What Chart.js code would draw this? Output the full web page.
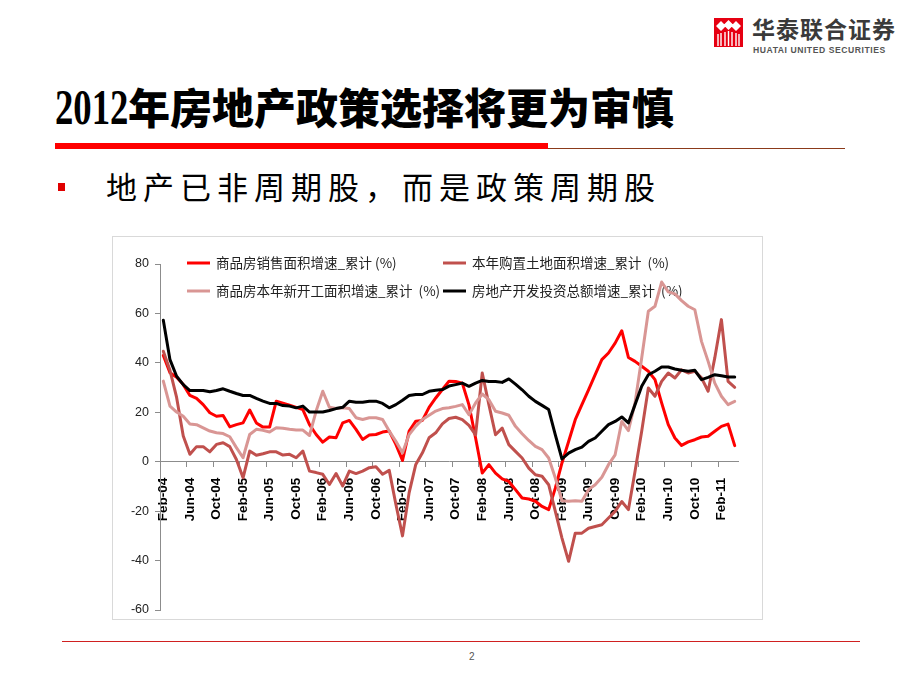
<!DOCTYPE html>
<html>
<head>
<meta charset="utf-8">
<script src="https://cdn.jsdelivr.net/npm/chart.js@4.4.0/dist/chart.umd.min.js"></script>
<style>
  body { margin: 0; width: 920px; height: 690px; background: #fff; position: relative; overflow: hidden; font-family: "Noto Sans CJK SC", sans-serif; }
  .abs { position: absolute; }
  #title { left: 55px; top: 82px; font-size: 42px; line-height: 1; font-weight: 900; color: #000; white-space: nowrap; }
  #title .num { display: inline-block; font-family: "Liberation Serif", serif; font-weight: 700; font-size: 51px; transform: scaleX(0.72); transform-origin: left bottom; margin-right: -29px; vertical-align: baseline; }
  #redbar { left: 55px; top: 143px; width: 493px; height: 6px; background: #ff0000; }
  #thinbar { left: 548px; top: 148px; width: 297px; height: 1px; background: #8b3a1a; }
  #bullet { left: 58px; top: 183px; width: 7px; height: 8px; background: #e00000; }
  #sub { left: 106px; top: 170px; font-size: 31px; line-height: 1; letter-spacing: 6px; color: #000; white-space: nowrap; }
  #box { left: 112px; top: 236px; width: 651px; height: 384px; border: 1px solid #d9d9d9; box-sizing: border-box; }
  #footline { left: 62px; top: 641px; width: 798px; height: 1px; background: #d02020; }
  #page { left: 469px; top: 651px; font-size: 10px; color: #555; font-family: "Liberation Sans", sans-serif; }
  #logoTxt { left: 752px; top: 17px; font-size: 23px; font-weight: 700; color: #3a3a3a; letter-spacing: 1px; line-height: 1; white-space: nowrap; }
  #logoEn { left: 753px; top: 45px; font-size: 8.6px; font-weight: 700; color: #555; letter-spacing: 0.55px; font-family: "Liberation Sans", sans-serif; white-space: nowrap; }
</style>
</head>
<body>
<svg class="abs" style="left:714px;top:18px" width="29" height="29" viewBox="0 0 29 29">
  <rect x="0" y="0" width="29" height="29" fill="#e60012"/>
  <path d="M7 3 L12 8 L7 13 L2 8 Z M14.5 2 L19.5 7 L14.5 12 L9.5 7 Z M22 3 L27 8 L22 13 L17 8 Z" fill="#fff"/>
  <path d="M4 16 V28 M7 15 V28 M11 14 V28 M14.5 13 V28 M18 14 V28 M22 15 V28 M25 16 V28" stroke="#fff" stroke-width="1.4"/>
</svg>
<div id="logoTxt" class="abs">华泰联合证券</div>
<div id="logoEn" class="abs">HUATAI UNITED SECURITIES</div>

<div id="title" class="abs"><span class="num">2012</span>年房地产政策选择将更为审慎</div>
<div id="redbar" class="abs"></div>
<div id="thinbar" class="abs"></div>
<div id="bullet" class="abs"></div>
<div id="sub" class="abs">地产已非周期股，而是政策周期股</div>

<div id="box" class="abs"><canvas id="myChart"></canvas></div>
<div id="footline" class="abs"></div>
<div id="page" class="abs">2</div>

<script>
const months = [
  'Feb-04','Mar-04','Apr-04','May-04','Jun-04','Jul-04','Aug-04','Sep-04','Oct-04','Nov-04','Dec-04',
  'Jan-05','Feb-05','Mar-05','Apr-05','May-05','Jun-05','Jul-05','Aug-05','Sep-05','Oct-05','Nov-05','Dec-05',
  'Jan-06','Feb-06','Mar-06','Apr-06','May-06','Jun-06','Jul-06','Aug-06','Sep-06','Oct-06','Nov-06','Dec-06',
  'Jan-07','Feb-07','Mar-07','Apr-07','May-07','Jun-07','Jul-07','Aug-07','Sep-07','Oct-07','Nov-07','Dec-07',
  'Jan-08','Feb-08','Mar-08','Apr-08','May-08','Jun-08','Jul-08','Aug-08','Sep-08','Oct-08','Nov-08','Dec-08',
  'Jan-09','Feb-09','Mar-09','Apr-09','May-09','Jun-09','Jul-09','Aug-09','Sep-09','Oct-09','Nov-09','Dec-09',
  'Jan-10','Feb-10','Mar-10','Apr-10','May-10','Jun-10','Jul-10','Aug-10','Sep-10','Oct-10','Nov-10','Dec-10',
  'Jan-11','Feb-11','Mar-11','Apr-11'
];

// 商品房销售面积增速_累计
const salesArea = [
  43, 36, 34.2, 31.2, 26.8, 25.6, 23.1, 19.8, 18.4, 18.7, 14.1,
  15, 15.7, 20.9, 15.7, 14, 14, 24.5, 23.7, 22.9, 22, 21.1, 15,
  11, 7.9, 10, 9.7, 15.7, 16.7, 13.1, 9, 10.8, 11, 12, 12.4,
  7, 0.5, 12.4, 16.4, 16.7, 22, 25.8, 29.2, 32.6, 32.5, 31.8, 23,
  9.6, -4.6, -1.2, -4.6, -6.9, -8, -11.3, -14.7, -15.1, -16, -18.1, -19.4,
  -10.7, -0.5, 8.2, 17, 23.1, 29.1, 35.2, 41.3, 44, 48, 53, 42.2,
  40.6, 38.6, 36.6, 33.2, 23.8, 15, 9.6, 6.6, 8, 8.9, 10, 10.3,
  12.3, 14.3, 15.2, 6.5
];

// 本年购置土地面积增速_累计
const landArea = [
  44.7, 37, 26, 10.4, 3, 6.1, 6.1, 4, 7, 7.7, 6.1,
  0.9, -6.5, 4.3, 2.6, 3.2, 4, 4, 2.7, 3, 1.6, 4.3, -3.8,
  -4.4, -5.1, -9.2, -4.8, -9.8, -3.8, -4.8, -3.8, -2.4, -2, -5.1, -3.5,
  -17.2, -30, -12.5, -1.1, 3.6, 9.7, 11.7, 15.3, 17.5, 18, 17, 14.7,
  10.9, 35.9, 23.1, 10.9, 13.6, 6.9, 4.2, 1.5, -2.6, -5.3, -5.9, -9.3,
  -20.1, -30.9, -40.3, -28.9, -28.9, -26.9, -26.2, -25.5, -22.8, -20.1, -16.1, -19.4,
  -3.9, 12.3, 29.8, 26.5, 32.5, 35.9, 33.9, 37.2, 35.9, 36.6, 33.9, 28.5,
  42, 57.5, 32.5, 30.1
];

// 商品房本年新开工面积增速_累计
const newStarts = [
  32.6, 22.5, 20.1, 18.4, 15.3, 15, 13.7, 12.4, 11.7, 11.4, 10.1,
  5.7, 1.6, 11, 13.1, 12.7, 12, 13.7, 13.5, 13.1, 12.8, 12.8, 10.6,
  20.5, 28.5, 22, 21.5, 21.8, 21.5, 17.8, 17.1, 17.8, 17.8, 17.1, 12.4,
  8.3, 3.6, 11, 14.4, 17.1, 18.8, 20.5, 21.5, 21.8, 22.4, 23.1, 19,
  23.8, 27.4, 25.1, 20.4, 19.7, 18.8, 14.3, 11.3, 8.6, 6.2, 4.9, 1.5,
  -6.6, -15.8, -16, -15.8, -16, -11.3, -9.3, -6.3, -1.2, 2.8, 16.3, 12.6,
  23.8, 42, 60.9, 62.9, 72.7, 68.7, 67.9, 65.2, 62.9, 61.5, 48.7, 40.6,
  31.8, 26.5, 23.1, 24.4
];

// 房地产开发投资总额增速_累计
const investment = [
  57.2, 41.3, 34.6, 31.2, 28.8, 28.8, 28.8, 28.3, 28.8, 29.5, 28.5,
  27.6, 26.8, 26.8, 25.6, 24.5, 23.6, 23.6, 22.7, 22.5, 21.8, 22.5, 20.1,
  20.1, 20.1, 20.7, 21.5, 22, 24.5, 24.1, 24.1, 24.5, 24.5, 23.6, 21.8,
  23.1, 24.9, 26.8, 27.2, 27.2, 28.5, 28.9, 29.2, 30.6, 31.2, 31.8, 30.5,
  31.8, 32.9, 32.5, 32.5, 32.1, 33.5, 31.4, 29.1, 26.5, 24.4, 22.8, 21.1,
  10.9, 1.1, 3.5, 4.9, 5.9, 8.2, 9.6, 12.3, 15, 16.3, 18.1, 15.7,
  23.1, 30.5, 35.2, 36.6, 38.3, 38.3, 37.5, 37, 36.6, 37, 33.2, 34.1,
  35.2, 34.8, 34.3, 34.3
];

const yTicks = [-60, -40, -20, 0, 20, 40, 60, 80];

const axisGray = '#8c8c8c';

// legend drawn inside the plot like the original (2 x 2)
const cornerLegend = {
  id: 'cornerLegend',
  beforeDatasetsDraw(chart) {
    const ctx = chart.ctx;
    const spots = [[74, 26], [330, 26], [74, 54], [330, 54]];
    chart.data.datasets.forEach((ds, i) => {
      const [x, y] = spots[i];
      ctx.save();
      ctx.strokeStyle = ds.borderColor;
      ctx.lineWidth = 3;
      ctx.beginPath();
      ctx.moveTo(x, y);
      ctx.lineTo(x + 23, y);
      ctx.stroke();
      ctx.fillStyle = '#222';
      ctx.font = '13.5px "Noto Sans CJK SC"';
      ctx.textBaseline = 'middle';
      ctx.fillText(ds.label, x + 29, y);
      ctx.restore();
    });
  }
};

const line = (label, data, color, order) => ({
  label: label,
  data: data,
  borderColor: color,
  borderWidth: 3,
  pointRadius: 0,
  tension: 0,
  fill: false,
  borderJoinStyle: 'round',
  borderCapStyle: 'round',
  order: order
});

const ctx = document.getElementById('myChart');
new Chart(ctx, {
  type: 'line',
  data: {
    labels: months,
    datasets: [
      line('商品房销售面积增速_累计 (%)', salesArea, '#ff0000', 4),
      line('本年购置土地面积增速_累计  (%)', landArea, '#c0504d', 3),
      line('商品房本年新开工面积增速_累计  (%)', newStarts, '#d99694', 2),
      line('房地产开发投资总额增速_累计  (%)', investment, '#000000', 1)
    ]
  },
  plugins: [cornerLegend],
  options: {
    responsive: true,
    maintainAspectRatio: false,
    animation: false,
    layout: { padding: { left: 0, top: 27, right: 15, bottom: 9 } },
    plugins: { legend: { display: false }, tooltip: { enabled: false } },
    scales: {
      x: {
        type: 'category',
        offset: true,
        position: { y: 0 },
        afterFit: s => { s.paddingTop = 0; s.paddingBottom = 0; },
        border: { display: true, color: axisGray, width: 1 },
        grid: {
          offset: true,
          drawOnChartArea: false,
          tickLength: 5,
          color: c => (c.index % 4 === 0 ? axisGray : 'rgba(0,0,0,0)')
        },
        ticks: {
          autoSkip: false,
          maxRotation: 90,
          minRotation: 90,
          padding: 11,
          color: '#000',
          font: { family: 'Liberation Sans', size: 13.5, weight: 'bold' },
          callback: (v, i) => (i % 4 === 0 ? months[i] : '')
        }
      },
      y: {
        min: -60,
        max: 80,
        afterFit: s => { s.width = 47; s.paddingTop = 0; s.paddingBottom = 0; },
        afterBuildTicks: s => { s.ticks = yTicks.map(v => ({ value: v })); },
        border: { display: true, color: axisGray, width: 1 },
        grid: { drawOnChartArea: false, tickLength: 5, color: axisGray },
        ticks: {
          padding: 6,
          color: '#222',
          font: { family: 'Liberation Sans', size: 12.5 }
        }
      }
    }
  }
});
</script>
</body>
</html>
